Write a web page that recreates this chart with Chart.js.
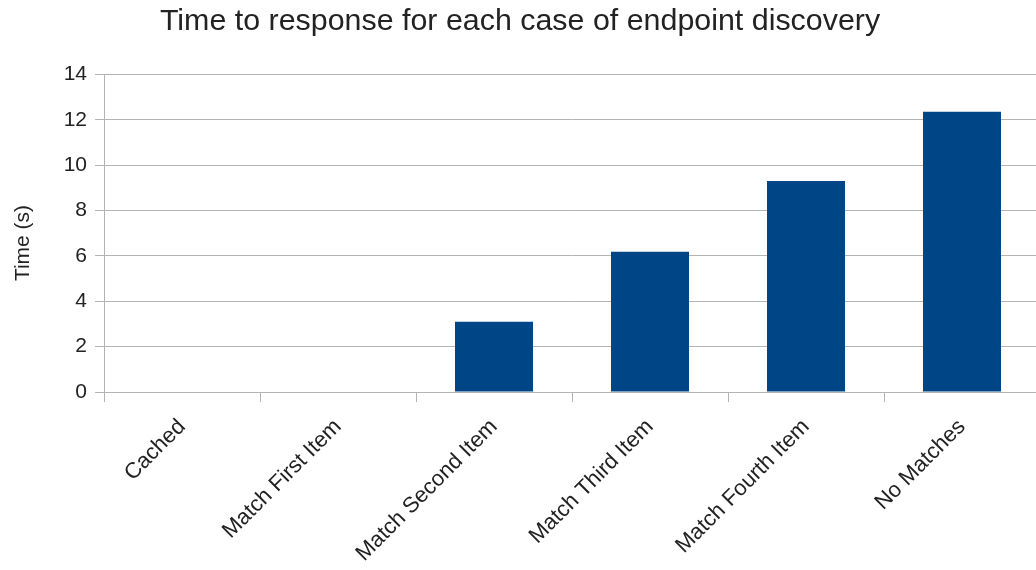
<!DOCTYPE html>
<html>
<head>
<meta charset="utf-8">
<script src="https://cdn.jsdelivr.net/npm/chart.js@4/dist/chart.umd.min.js"></script>
<style>
  html, body { margin: 0; padding: 0; background: #ffffff; overflow: hidden; }
  #wrap { position: absolute; left: 0; top: 0; width: 1040px; height: 570px; }
</style>
</head>
<body>
<div id="wrap"><canvas id="chart" width="1040" height="570"></canvas></div>
<script>
// Response time for each endpoint discovery case
const categories = ['Cached', 'Match First Item', 'Match Second Item', 'Match Third Item', 'Match Fourth Item', 'No Matches'];
const responseTimes = [0, 0, 3.1, 6.18, 9.3, 12.36];
const timeTicks = [0, 2, 4, 6, 8, 10, 12, 14];

const FONT = "'Liberation Sans', Arial, sans-serif";
const GRID = '#b3b3b3';
const TEXT = '#222222';

// Rotated y-axis caption, centred on its own line
const yCaption = {
  id: 'yCaption',
  afterDraw(chart) {
    const ctx = chart.ctx;
    ctx.save();
    ctx.translate(23, 243);
    ctx.rotate(-Math.PI / 2);
    ctx.font = '21px ' + FONT;
    ctx.fillStyle = TEXT;
    ctx.textAlign = 'center';
    ctx.textBaseline = 'middle';
    ctx.fillText('Time (s)', 0, 0);
    ctx.restore();
  }
};

new Chart(document.getElementById('chart'), {
  type: 'bar',
  data: {
    labels: categories,
    datasets: [{
      label: 'Time (s)',
      data: responseTimes,
      backgroundColor: '#004586',
      borderWidth: 0,
      barPercentage: 0.5,
      categoryPercentage: 1.0
    }]
  },
  options: {
    responsive: false,
    animation: false,
    layout: { padding: 0 },
    plugins: {
      legend: { display: false },
      tooltip: { enabled: false },
      title: {
        display: true,
        text: 'Time to response for each case of endpoint discovery',
        color: TEXT,
        font: { family: FONT, size: 30.4, weight: 'normal' },
        padding: { top: 3, bottom: 35 }
      }
    },
    scales: {
      x: {
        offset: true,
        grid: { display: true, drawOnChartArea: false, drawTicks: true, tickLength: 10, color: GRID, offset: true },
        border: { display: true, color: GRID, width: 1 },
        ticks: {
          color: TEXT,
          font: { family: FONT, size: 22 },
          maxRotation: 45,
          minRotation: 45,
          autoSkip: false,
          padding: 12
        },
        afterFit(scale) { scale.height = 178; }
      },
      y: {
        min: timeTicks[0],
        max: timeTicks[timeTicks.length - 1],
        afterBuildTicks(scale) { scale.ticks = timeTicks.map(v => ({ value: v })); },
        grid: { color: GRID, lineWidth: 1, drawTicks: true, tickLength: 9 },
        border: { display: true, color: GRID, width: 1 },
        ticks: {
          color: TEXT,
          font: { family: FONT, size: 21 },
          padding: 8
        },
        afterFit(scale) { scale.width = 104; }
      }
    }
  },
  plugins: [yCaption]
});
</script>
</body>
</html>
